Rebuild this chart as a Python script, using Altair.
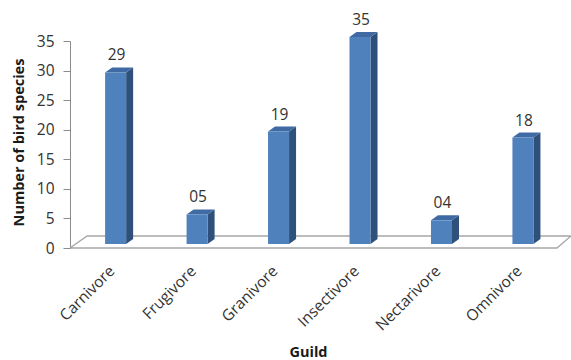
import altair as alt
import pandas as pd

# ---- data ----
guilds = ["Carnivore", "Frugivore", "Granivore", "Insectivore", "Nectarivore", "Omnivore"]
species = [29, 5, 19, 35, 4, 18]
labels = ["29", "05", "19", "35", "04", "18"]
y_ticks = [0, 5, 10, 15, 20, 25, 30, 35]

# ---- 3D styling constants (data units of the scales) ----
SHIFT = 0.06      # bars sit slightly behind the floor's front edge
HW = 0.129        # half width of front face
DX = 0.086        # depth offset in x
DY = 0.85         # depth offset in y
BASE = 0.68       # bar base above front floor edge
FLOOR_DY = 2.03
FLOOR_DX_L = 0.21
X_MIN, X_MAX = -0.5, 5.65

FONT = "Open Sans"
TXT = "#333333"
FRONT = "#4f81bd"
TOP = "#3f6aa3"
SIDE = "#2f507a"
LINE = "#a6a6a6"

n = len(guilds)
front = pd.DataFrame({
    "guild": guilds,
    "idx": list(range(n)),
    "v": species,
    "label": labels,
})
front["xl"] = front["idx"] + SHIFT - HW
front["xr"] = front["idx"] + SHIFT + HW
front["yb"] = BASE
front["yt"] = front["v"] + BASE
front["xc"] = front["idx"] + SHIFT

rows = []
for i, (g, v) in enumerate(zip(guilds, species)):
    for k in (0, 1):
        rows.append({
            "guild": g,
            "k": k,
            "sx": i + SHIFT + HW + k * DX,
            "sy_top": v + BASE + k * DY,
            "sy_bot": BASE + k * DY,
            "tl": i + SHIFT - HW + k * DX,
            "tr": i + SHIFT + HW + k * DX,
        })
faces = pd.DataFrame(rows)

floor = pd.DataFrame({
    "fx": [X_MIN, n - 0.5 - 0.022, X_MAX, X_MIN + FLOOR_DX_L, X_MIN],
    "fy": [0, 0, FLOOR_DY, FLOOR_DY, 0],
    "o": [0, 1, 2, 3, 4],
})

xs = alt.Scale(domain=[X_MIN, X_MAX], nice=False, zero=False)
ys = alt.Scale(domain=[0, 35], nice=False)

label_expr = "[" + ",".join(f"'{g}'" for g in guilds) + "][datum.value]"

x_axis = alt.Axis(values=list(range(n)), labelExpr=label_expr, title="Guild",
                  domain=False, ticks=False, grid=False, labelOverlap=False,
                  labelAngle=315, labelAlign="right", labelBaseline="top",
                  labelPadding=15, labelOffset=-4, labelFontSize=15.5, labelFont=FONT,
                  labelColor=TXT, titleFont=FONT, titleFontSize=14.5,
                  titleFontWeight="bold", titleColor="#1a1a1a",
                  titleX=238, titleY=111, titleBaseline="bottom")
y_axis = alt.Axis(values=y_ticks, title="Number of bird species", grid=False,
                  labelOverlap=False, tickCount=8,
                  domainColor="#8c8c8c", tickColor="#8c8c8c", tickSize=7,
                  labelPadding=9, labelFontSize=15.5, labelFont=FONT,
                  labelColor=TXT, titleFont=FONT, titleFontSize=14.5,
                  titleFontWeight="bold", titleColor="#1a1a1a",
                  titleX=-51, titleY=101, titleBaseline="middle")

floor_layer = alt.Chart(floor).mark_line(color=LINE, strokeWidth=1.3).encode(
    x=alt.X("fx:Q", scale=xs, axis=x_axis),
    y=alt.Y("fy:Q", scale=ys, axis=y_axis),
    order="o:Q",
)

side_layer = alt.Chart(faces).mark_area(color=SIDE, orient="vertical").encode(
    x=alt.X("sx:Q", scale=xs, axis=x_axis),
    y=alt.Y("sy_top:Q", scale=ys, axis=y_axis),
    y2="sy_bot:Q",
    detail="guild:N",
)

top_layer = alt.Chart(faces).mark_area(color=TOP, orient="horizontal").encode(
    y=alt.Y("sy_top:Q", scale=ys, axis=y_axis),
    x=alt.X("tl:Q", scale=xs, axis=x_axis),
    x2="tr:Q",
    detail="guild:N",
)

front_layer = alt.Chart(front).mark_rect(color=FRONT).encode(
    x=alt.X("xl:Q", scale=xs, axis=x_axis),
    x2="xr:Q",
    y=alt.Y("yb:Q", scale=ys, axis=y_axis),
    y2="yt:Q",
)

text_layer = alt.Chart(front).mark_text(
    font=FONT, fontSize=15.5, color=TXT, baseline="middle", dy=-17, dx=1
).encode(
    x=alt.X("xc:Q", scale=xs, axis=x_axis),
    y=alt.Y("yt:Q", scale=ys, axis=y_axis),
    text="label:N",
)

chart = alt.layer(floor_layer, side_layer, top_layer, front_layer, text_layer).properties(
    width=501, height=207,
    autosize=alt.AutoSizeParams(type="none"),
    padding={"left": 70, "top": 41, "right": 0, "bottom": 112},
    background="white",
).configure_view(stroke=None)

chart.save("out.html", embed_options={"renderer": "svg", "actions": False})
